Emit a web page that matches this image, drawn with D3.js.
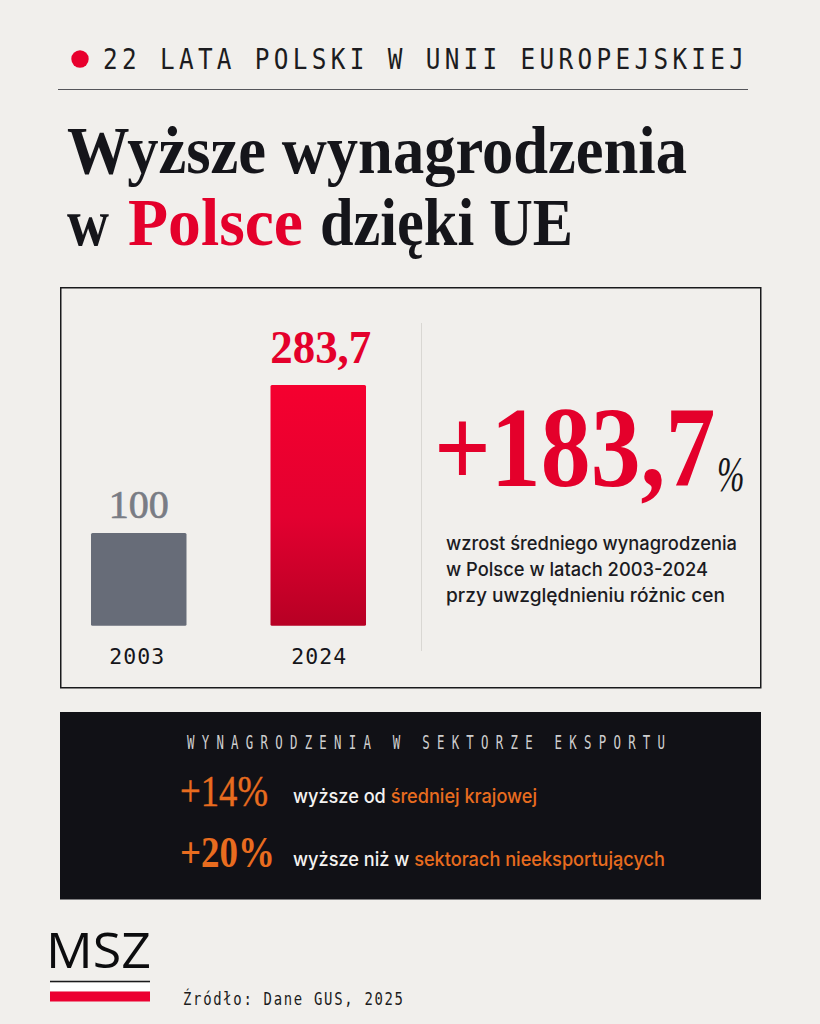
<!DOCTYPE html>
<html lang="pl"><head><meta charset="utf-8">
<script src="https://cdn.jsdelivr.net/npm/d3@7"></script>
<style>html,body{margin:0;padding:0;background:#f1efec}svg{display:block}</style></head>
<body><div id="c"></div>
<script>
const years = ["2003","2024"];
const values = [100,283.7];
const valueLabels = ["100","283,7"];
const eyebrow = "22 LATA POLSKI W UNII EUROPEJSKIEJ";
const descriptionLines = ["wzrost średniego wynagrodzenia","w Polsce w latach 2003-2024","przy uwzględnieniu różnic cen"];
const exportHeading = "WYNAGRODZENIA W SEKTORZE EKSPORTU";
const exportValues = ["+14%","+20%"];
const exportLead = ["wyższe od ","wyższe niż w "];
const exportAccent = ["średniej krajowej","sektorach nieeksportujących"];

const SERIF="'Liberation Serif',serif", MONO="'DejaVu Sans Mono',monospace", SANS="Inter,sans-serif";
const INK="#15151a", RED="#e4002b", ORANGE="#e86c1f";

const svg=d3.select("#c").append("svg").attr("width",820).attr("height",1024).attr("viewBox","0 0 820 1024");
svg.append("rect").attr("width",820).attr("height",1024).attr("fill","#f1efec");
const grad=svg.append("defs").append("linearGradient").attr("id","redbar").attr("x1",0).attr("x2",0).attr("y1",0).attr("y2",1);
grad.append("stop").attr("offset","0").attr("stop-color","#f5002f");
grad.append("stop").attr("offset","0.55").attr("stop-color","#e30030");
grad.append("stop").attr("offset","1").attr("stop-color","#b70024");

function T(x,y,s,o={}){
  const t=svg.append("text")
    .attr("font-family",o.f||SANS).attr("font-size",o.s||16).attr("font-weight",o.w||400)
    .attr("fill",o.c||INK).attr("text-anchor",o.a||"start");
  const sx=o.sx||1;
  if(sx!==1)t.attr("transform",`translate(${x},${y}) scale(${sx},1)`);else t.attr("x",x).attr("y",y);
  if(o.i)t.attr("font-style","italic");
  if(o.ls)t.attr("letter-spacing",o.ls);
  if(o.stroke)t.attr("stroke",o.c||INK).attr("stroke-width",o.stroke);
  if(o.len)t.attr("textLength",o.len/sx).attr("lengthAdjust",o.adj||"spacingAndGlyphs");
  if(Array.isArray(s))s.forEach(p=>t.append("tspan").attr("fill",p[1]).text(p[0]));else t.text(s);
  return t;
}

// header
svg.append("circle").attr("cx",80).attr("cy",59).attr("r",8.7).attr("fill","#e8002d");
T(103,69,eyebrow,{f:MONO,s:29,sx:0.84,len:641,adj:"spacing",c:"#1c1c20"});
svg.append("line").attr("x1",58).attr("x2",748).attr("y1",89.5).attr("y2",89.5).attr("stroke","#55555a").attr("stroke-width",1.2);

// title
T(67,173,"Wyższe wynagrodzenia",{f:SERIF,s:67,w:700,len:620});
T(67,245,"w",{f:SERIF,s:67,w:700,len:42});
T(128,245,"Polsce",{f:SERIF,s:67,w:700,len:175,c:RED});
T(320,245,"dzięki UE",{f:SERIF,s:67,w:700,len:253});

// chart box
svg.append("rect").attr("x",60.75).attr("y",287.75).attr("width",700).attr("height",400).attr("fill","none").attr("stroke","#1a1a1c").attr("stroke-width",1.5);
svg.append("line").attr("x1",421.5).attr("x2",421.5).attr("y1",323).attr("y2",651).attr("stroke","#d9d7d3").attr("stroke-width",1);

const x=d3.scaleBand().domain(years).range([91,366]).paddingInner(0.468).paddingOuter(0);
// The picture's bars are not zero-based: the baseline sits below zero.
const y=d3.scaleLinear().domain([-15,283.7]).range([625.7,385]);
const rows=years.map((yr,i)=>({yr,v:values[i],lab:valueLabels[i],i}));
svg.append("g").selectAll("rect").data(rows).join("rect")
  .attr("x",d=>x(d.yr)).attr("width",x.bandwidth())
  .attr("y",d=>y(d.v)).attr("height",d=>y.range()[0]-y(d.v)).attr("rx",1.5)
  .attr("fill",d=>d.i?"url(#redbar)":"#676c78");
const valueFs=[39,46], valueLen=[60,101], valueGap=[15,22], valueCol=["#797c84",RED];
rows.forEach(d=>{
  T(x(d.yr)+x.bandwidth()/2+(d.i?2.5:0),y(d.v)-valueGap[d.i],d.lab,{f:SERIF,s:valueFs[d.i],w:d.i?700:400,c:valueCol[d.i],a:"middle",len:valueLen[d.i],stroke:d.i?0:0.7});
});
const axis=svg.append("g").attr("transform","translate(0,646)").call(d3.axisBottom(x).tickSize(0).tickPadding(0));
axis.select(".domain").remove();
axis.selectAll("text").attr("font-family",MONO).attr("font-size",21.5).attr("font-weight",500).attr("fill",INK).attr("letter-spacing",1).attr("y",18).attr("dy",0)
  .attr("dx",(d,i)=>[-1.5,1][i]);

// big number
T(434,486,"+183,7",{f:SERIF,s:115,sx:0.868,w:700,c:RED});
T(717,491,"%",{f:SERIF,s:50,i:true,c:INK,sx:0.66});
descriptionLines.forEach((l,i)=>T(446,[550,575.5,601.5][i],l,{s:18.6,w:500,c:"#1b1b1f",len:[291,262,279][i]}));

// dark panel
svg.append("rect").attr("x",60).attr("y",712).attr("width",701).attr("height",187.5).attr("fill","#111116");
T(187,749,exportHeading,{f:MONO,s:20,sx:0.62,c:"#cfcfcf",len:478,adj:"spacing"});
exportValues.forEach((v,i)=>{
  T(180,[806,867][i],v,{f:SERIF,s:44,c:ORANGE,len:[88,95][i],w:i?700:400,stroke:i?0:0.4});
  T(293,[803,866][i],[[exportLead[i],"#f4f3f1"],[exportAccent[i],ORANGE]],{s:19.5,w:500,len:[244,372][i]});
});

// footer
T(46,968,"MSZ",{f:"'Open Sans',sans-serif",s:50,w:500,c:"#0c0c0e",len:105});
svg.append("rect").attr("x",50).attr("y",983).attr("width",100).attr("height",8.5).attr("fill","#ffffff");
svg.append("line").attr("x1",50).attr("x2",150).attr("y1",981.5).attr("y2",981.5).attr("stroke","#1a1a1c").attr("stroke-width",1.5);
svg.append("rect").attr("x",50).attr("y",991.5).attr("width",100).attr("height",10).attr("fill","#ec0031");
T(183,1005,"Źródło: Dane GUS, 2025",{f:MONO,s:17,sx:0.82,c:"#1c1c20",len:220,adj:"spacing"});
</script></body></html>
